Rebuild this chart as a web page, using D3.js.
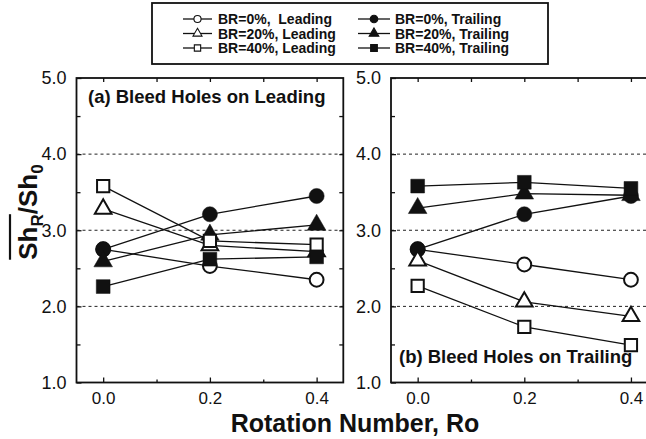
<!DOCTYPE html>
<html>
<head>
<meta charset="utf-8">
<script src="https://cdn.jsdelivr.net/npm/d3@7"></script>
<style>
  body { margin: 0; background: #fff; }
  svg { display: block; font-family: "Liberation Sans", Arial, sans-serif; }
</style>
</head>
<body>
<svg id="chart" width="646" height="439"></svg>
<script>
// rotation numbers
const ro = [0.0, 0.2, 0.4]

const seriesLabels = ['BR=0%,  Leading', 'BR=0%, Trailing', 'BR=20%, Leading', 'BR=20%, Trailing', 'BR=40%, Leading', 'BR=40%, Trailing']

// (a) bleed holes on leading
const aBR0Lead   = [2.75, 2.53, 2.35]
const aBR0Trail  = [2.75, 3.21, 3.45]
const aBR20Lead  = [3.28, 2.80, 2.72]
const aBR20Trail = [2.59, 2.94, 3.07]
const aBR40Lead  = [3.58, 2.86, 2.81]
const aBR40Trail = [2.26, 2.62, 2.65]

// (b) bleed holes on trailing
const bBR0Lead   = [2.75, 2.55, 2.35]
const bBR0Trail  = [2.75, 3.21, 3.45]
const bBR20Lead  = [2.60, 2.06, 1.87]
const bBR20Trail = [3.29, 3.48, 3.46]
const bBR40Lead  = [2.27, 1.73, 1.49]
const bBR40Trail = [3.58, 3.63, 3.55]

const yTicks = [1.0, 2.0, 3.0, 4.0, 5.0]
const xTicks = [0.0, 0.2, 0.4]
const gridValues = [2.0, 3.0, 4.0]

const svg = d3.select('#chart')

const yScale = d3.scaleLinear().domain([1, 5]).range([382.5, 78])

const shapes = [d3.symbolCircle, d3.symbolCircle, d3.symbolTriangle, d3.symbolTriangle, d3.symbolSquare, d3.symbolSquare]
const filled = [false, true, false, true, false, true]
const bigSize = [150, 180, 120, 150, 150, 190]

const drawPanel = (xRange, series, label, labelPos) => {
	const xScale = d3.scaleLinear().domain([-0.05, 0.45]).range(xRange)
	const g = svg.append('g')
	const x0 = xRange[0], x1 = xRange[1]
	const yb = yScale(1), yt = yScale(5)

	// dashed grid
	g.selectAll('.grid')
		.data(gridValues)
		.enter()
		.append('line')
		.attr('x1', x0).attr('x2', x1)
		.attr('y1', d => yScale(d)).attr('y2', d => yScale(d))
		.attr('stroke', '#222')
		.attr('stroke-width', 1)
		.attr('stroke-dasharray', '3,3')

	// ticks
	const xAxis = d3.axisBottom(xScale).tickValues(xTicks).tickSizeInner(-5).tickSizeOuter(0)
		.tickPadding(9).tickFormat(d3.format('.1f'))
	const xAx = g.append('g').attr('transform', `translate(0,${yb})`).call(xAxis)
	xAx.selectAll('text').attr('font-size', 17).attr('font-family', 'Liberation Sans, Arial, sans-serif').attr('fill', '#111')
	g.append('g').attr('transform', `translate(0,${yb})`)
		.call(d3.axisBottom(xScale).tickValues([0.1, 0.3]).tickSizeInner(-3).tickSizeOuter(0).tickFormat(''))
	g.append('g').attr('transform', `translate(0,${yt})`)
		.call(d3.axisTop(xScale).tickValues([0.0, 0.1, 0.2, 0.3, 0.4]).tickSizeInner(-4).tickSizeOuter(0).tickFormat(''))

	const yAx = g.append('g').attr('transform', `translate(${x0},0)`)
		.call(d3.axisLeft(yScale).tickValues(yTicks).tickSizeInner(-5).tickSizeOuter(0).tickPadding(10).tickFormat(d3.format('.1f')))
	yAx.selectAll('text').attr('font-size', 18).attr('font-family', 'Liberation Sans, Arial, sans-serif').attr('fill', '#111')
	g.append('g').attr('transform', `translate(${x0},0)`)
		.call(d3.axisLeft(yScale).tickValues([1.5, 2.5, 3.5, 4.5]).tickSizeInner(-4).tickSizeOuter(0).tickFormat(''))
	g.append('g').attr('transform', `translate(${x1},0)`)
		.call(d3.axisRight(yScale).tickValues([1.5, 2, 2.5, 3, 3.5, 4, 4.5]).tickSizeInner(-4).tickSizeOuter(0).tickFormat(''))

	g.selectAll('.domain').remove()
	g.selectAll('.tick line').attr('stroke', '#111').attr('stroke-width', 1.3)

	// frame
	g.append('rect')
		.attr('x', x0).attr('y', yt)
		.attr('width', x1 - x0).attr('height', yb - yt)
		.attr('fill', 'none')
		.attr('stroke', '#111')
		.attr('stroke-width', 1.8)

	const line = d3.line().x((d, i) => xScale(ro[i])).y(d => yScale(d))

	g.selectAll('.series-line')
		.data(series)
		.enter()
		.append('path')
		.attr('d', d => line(d))
		.attr('fill', 'none')
		.attr('stroke', '#111')
		.attr('stroke-width', 1.3)

	series.forEach((vals, s) => {
		g.selectAll('.m' + s)
			.data(vals)
			.enter()
			.append('path')
			.attr('d', d3.symbol().type(shapes[s]).size(bigSize[s]))
			.attr('transform', (d, i) => `translate(${xScale(ro[i])},${yScale(d)})`)
			.attr('fill', filled[s] ? '#111' : '#fff')
			.attr('stroke', '#111')
			.attr('stroke-width', filled[s] ? 0.5 : 2)
	})

	g.append('text')
		.attr('x', labelPos[0]).attr('y', labelPos[1])
		.attr('font-size', 18.5)
		.attr('font-weight', 'bold')
		.attr('fill', '#111')
		.text(label)
}

drawPanel([76.5, 343.3],
	[aBR0Lead, aBR0Trail, aBR20Lead, aBR20Trail, aBR40Lead, aBR40Trail],
	'(a) Bleed Holes on Leading', [88, 103])

drawPanel([391, 657.6],
	[bBR0Lead, bBR0Trail, bBR20Lead, bBR20Trail, bBR40Lead, bBR40Trail],
	'(b) Bleed Holes on Trailing', [399, 363])

// legend
const legend = svg.append('g')
legend.append('rect')
	.attr('x', 152).attr('y', 3)
	.attr('width', 396).attr('height', 61)
	.attr('fill', '#fff')
	.attr('stroke', '#111')
	.attr('stroke-width', 1.8)

const smallSize = [40, 45, 35, 40, 40, 45]
seriesLabels.forEach((lab, i) => {
	const col = i % 2, row = Math.floor(i / 2)
	const lx = col === 0 ? 183 : 358
	const lw = col === 0 ? 29 : 32
	const ly = 19 + row * 14.5
	legend.append('line')
		.attr('x1', lx).attr('x2', lx + lw)
		.attr('y1', ly).attr('y2', ly)
		.attr('stroke', '#111').attr('stroke-width', 1.3)
	legend.append('path')
		.attr('d', d3.symbol().type(shapes[i]).size(smallSize[i]))
		.attr('transform', `translate(${lx + lw / 2},${ly})`)
		.attr('fill', filled[i] ? '#111' : '#fff')
		.attr('stroke', '#111')
		.attr('stroke-width', 1.1)
	legend.append('text')
		.attr('x', col === 0 ? 218 : 395)
		.attr('y', ly + 5)
		.attr('font-size', 14)
		.attr('font-weight', 'bold')
		.attr('fill', '#111')
		.attr('xml:space', 'preserve')
		.style('white-space', 'pre')
		.text(lab)
})

// x axis title
svg.append('text')
	.attr('x', 355).attr('y', 432)
	.attr('text-anchor', 'middle')
	.attr('font-size', 25)
	.attr('font-weight', 'bold')
	.attr('fill', '#111')
	.text('Rotation Number, Ro')

// y axis title with overline on Sh_R
const yTitle = svg.append('g').attr('transform', 'translate(37,212) rotate(-90)')
const yt = yTitle.append('text')
	.attr('text-anchor', 'middle')
	.attr('font-size', 26)
	.attr('font-weight', 'bold')
	.attr('fill', '#111')
yt.append('tspan').text('Sh')
yt.append('tspan').attr('font-size', 17).attr('dy', 6).text('R')
yt.append('tspan').attr('dy', -6).text('/Sh')
yt.append('tspan').attr('font-size', 17).attr('dy', 6).text('0')

const total = yt.node().getComputedTextLength()
const shR = yt.node().getSubStringLength(0, 3)
yTitle.append('line')
	.attr('x1', -total / 2).attr('x2', -total / 2 + shR)
	.attr('y1', -27).attr('y2', -27)
	.attr('stroke', '#111')
	.attr('stroke-width', 2.2)
</script>
</body>
</html>
